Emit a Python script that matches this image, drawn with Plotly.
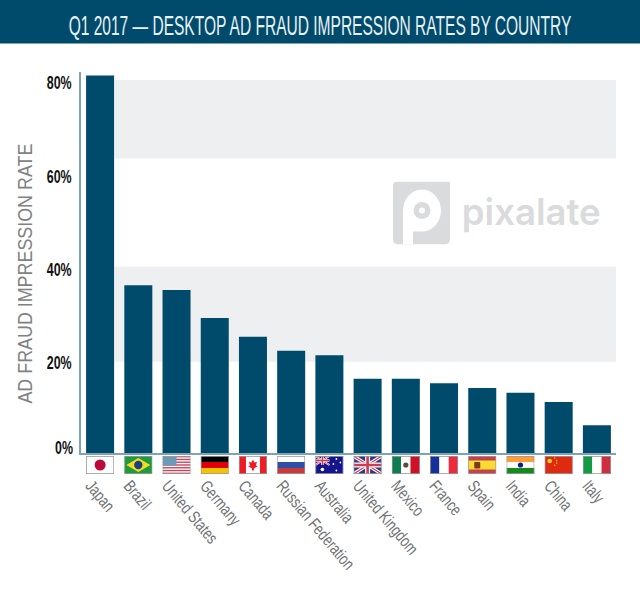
import base64
import plotly.graph_objects as go

countries = ["Japan", "Brazil", "United States", "Germany", "Canada", "Russian Federation", "Australia",
             "United Kingdom", "Mexico", "France", "Spain", "India", "China", "Italy"]
fraud_rates = [81, 36, 35, 29, 25, 22, 21, 16, 16, 15, 14, 13, 11, 6]
y_ticks = [20, 40, 60, 80]
y_tick_labels = ["20%", "40%", "60%", "80%"]
bands = [(19.6, 40), (63.2, 80)]

NAVY = "#004b6b"
AXIS = "#7fa3b6"
SANS = "Liberation Sans"

W, H = 640, 594


def py(pixel):
    # pixel row from the top -> paper fraction
    return (H - pixel) / H


def stripes_h(*cols):
    n = len(cols)
    return "".join(f'<rect y="{i * 18 / n}" width="28" height="{18 / n + .1}" fill="{c}"/>' for i, c in enumerate(cols))


def stripes_v(*cols):
    n = len(cols)
    return "".join(f'<rect x="{i * 28 / n}" width="{28 / n + .1}" height="18" fill="{c}"/>' for i, c in enumerate(cols))


us_stripes = "".join(f'<rect y="{i * 18 / 13}" width="28" height="{18 / 13}" fill="#c8415a"/>' for i in range(0, 13, 2))
union = ('<path d="M0 0L28 18M28 0L0 18" stroke="#fff" stroke-width="3.4"/>'
         '<path d="M0 0L28 18M28 0L0 18" stroke="#cf3a55" stroke-width="1.2"/>'
         '<path d="M14 0V18M0 9H28" stroke="#fff" stroke-width="5"/>'
         '<path d="M14 0V18M0 9H28" stroke="#cf3a55" stroke-width="2.6"/>')
union_small = ('<path d="M0 0L14 9M14 0L0 9" stroke="#fff" stroke-width="2"/>'
               '<path d="M0 0L14 9M14 0L0 9" stroke="#cf3a55" stroke-width=".8"/>'
               '<path d="M7 0V9M0 4.5H14" stroke="#fff" stroke-width="2.6"/>'
               '<path d="M7 0V9M0 4.5H14" stroke="#cf3a55" stroke-width="1.4"/>')

flags = {
    "Japan": '<rect width="28" height="18" fill="#fff"/><circle cx="14" cy="9" r="5.5" fill="#bc0a3c"/>',
    "Brazil": '<rect width="28" height="18" fill="#1f9a3c"/><path d="M14 2L26 9L14 16L2 9Z" fill="#f5dc1e"/>'
              '<circle cx="14" cy="9" r="4.2" fill="#1d3f86"/>',
    "United States": '<rect width="28" height="18" fill="#fff"/>' + us_stripes +
                     '<rect width="14" height="9.7" fill="#6d9ab8"/>',
    "Germany": stripes_h("#000", "#e00000", "#f5c400"),
    "Canada": stripes_v("#ee1c25", "#fff", "#fff", "#ee1c25") +
              '<path d="M14 3.5L15.5 6.5L18 5.8L17 9.5L19 10L15 12.5V14.5H13V12.5L9 10L11 9.5L10 5.8L12.5 6.5Z" fill="#ee1c25"/>',
    "Russian Federation": stripes_h("#fff", "#2e4fa8", "#cb3a3a"),
    "Australia": '<rect width="28" height="18" fill="#14148c"/>' + union_small +
                 '<circle cx="7" cy="13.5" r="1.8" fill="#fff"/><circle cx="21" cy="3" r=".9" fill="#fff"/>'
                 '<circle cx="25" cy="6.5" r=".9" fill="#fff"/><circle cx="18" cy="8" r=".9" fill="#fff"/>'
                 '<circle cx="21" cy="14.5" r=".9" fill="#fff"/>',
    "United Kingdom": '<rect width="28" height="18" fill="#2b3a88"/>' + union,
    "Mexico": stripes_v("#0e7d52", "#fff", "#ce1126") + '<circle cx="14" cy="9" r="2.6" fill="#5c4a32"/>',
    "France": stripes_v("#14309c", "#fff", "#ee2b3c"),
    "Spain": '<rect width="28" height="18" fill="#c8404a"/><rect y="4.5" width="28" height="9" fill="#f9dc32"/>'
             '<rect x="6" y="6" width="6" height="6.5" rx="1" fill="#7a3a1c"/>',
    "India": stripes_h("#ff9f33", "#fff", "#138a1c") + '<circle cx="14" cy="9" r="2.6" fill="#0c1f8c"/>',
    "China": '<rect width="28" height="18" fill="#df2a12"/><circle cx="5" cy="5" r="2.3" fill="#ffd21e"/>'
             '<circle cx="10" cy="2" r=".7" fill="#ffd21e"/><circle cx="12" cy="4.5" r=".7" fill="#ffd21e"/>'
             '<circle cx="12" cy="7" r=".7" fill="#ffd21e"/><circle cx="10" cy="9.2" r=".7" fill="#ffd21e"/>',
    "Italy": stripes_v("#129a45", "#fff", "#cf2e40"),
}

logo_mark = ('<svg xmlns="http://www.w3.org/2000/svg" width="57" height="63" viewBox="0 0 57 63">'
             '<path d="M4 0H57V58a5 5 0 0 1 -5 5H5a5 5 0 0 1 -5 -5V4a4 4 0 0 1 4 -4Z" fill="#d9dbdc"/>'
             '<path d="M10 63V29a19 21 0 1 1 19 21H20V63Z" fill="#fff"/>'
             '<circle cx="29" cy="29" r="8.5" fill="#d9dbdc"/><circle cx="29" cy="29" r="3" fill="#fff"/></svg>')


def data_uri(svg):
    return "data:image/svg+xml;base64," + base64.b64encode(svg.encode()).decode()


def flag_uri(country):
    return data_uri('<svg xmlns="http://www.w3.org/2000/svg" width="28" height="18" viewBox="0 0 28 18">'
                    + flags[country] +
                    '<rect x=".4" y=".4" width="27.2" height="17.2" fill="none" stroke="#9a9a9a" stroke-width=".8"/></svg>')


fig = go.Figure(go.Bar(x=countries, y=fraud_rates, marker_color=NAVY, marker_line_width=0))

# grey bands sit behind the bars and start just right of the Japan bar
for low, high in bands:
    fig.add_shape(type="rect", xref="x", yref="y", x0=0.38, x1=13.5, y0=low, y1=high,
                  fillcolor="#eeeff1", line_width=0, layer="below")

fig.add_shape(type="rect", xref="paper", yref="paper", x0=0, x1=1, y0=py(43.5), y1=1,
              fillcolor=NAVY, line_width=0, layer="below")

images = [dict(source=flag_uri(c), xref="x", yref="paper", x=c, y=py(465), sizex=0.733, sizey=18 / H,
               xanchor="center", yanchor="middle", sizing="stretch", layer="above") for c in countries]
images.append(dict(source=data_uri(logo_mark), xref="paper", yref="paper", x=393 / W, y=py(181.5),
                   sizex=57 / W, sizey=63 / H, xanchor="left", yanchor="top", sizing="stretch", layer="above"))

fig.update_layout(
    width=W, height=H, margin=dict(l=0, r=0, t=0, b=0),
    paper_bgcolor="white", plot_bgcolor="white", showlegend=False, bargap=0.267,
    title=dict(text="Q1 2017 — DESKTOP AD FRAUD IMPRESSION RATES BY COUNTRY", x=0.5, xanchor="center",
               y=py(26), yanchor="middle", yref="container",
               font=dict(family=SANS, size=27, color="#e8f2f6")),
    images=images,
    annotations=[
        dict(text="AD FRAUD IMPRESSION RATE", xref="paper", yref="paper", x=25 / W, y=py(274), xanchor="center",
             textangle=-90, showarrow=False, font=dict(family=SANS, size=20, color="#7f8284")),
        dict(text="0%", xref="paper", yref="y", x=63.5 / W, y=0, yshift=5, xanchor="center", showarrow=False,
             font=dict(family=SANS, size=18, color="#111111", weight="bold")),
        dict(text="pixalate", xref="paper", yref="paper", x=531 / W, y=py(211), xanchor="center", showarrow=False,
             font=dict(family="Inter", size=37, color="#d9dbdc", weight=600)),
    ],
)
fig.update_xaxes(domain=[81 / W, 616 / W], range=[-0.5, 13.5], automargin=False, showgrid=False, showline=True,
                 linecolor=AXIS, linewidth=1.5, ticks="", tickangle=50, ticklabelstandoff=14, ticklabelshift=-9,
                 tickfont=dict(family=SANS, size=17, color="#707274"))
fig.update_yaxes(domain=[py(453.3), py(71.7)], range=[0, 81.8], automargin=False, showgrid=False, zeroline=False,
                 showline=True, linecolor=AXIS, linewidth=1.5, ticks="", tickvals=y_ticks, ticktext=y_tick_labels,
                 ticklabelstandoff=4, ticklabelshift=3,
                 tickfont=dict(family=SANS, size=18, color="#111111", weight="bold"))

# no condensed font is installed, so squeeze the text along its own direction; also drop the body margin
squeeze = """
document.body.style.margin = '0';
var fit = {'Q1 2017 — DESKTOP AD FRAUD IMPRESSION RATES BY COUNTRY': 503, 'AD FRAUD IMPRESSION RATE': 260, 'pixalate': 139};
document.querySelectorAll('.main-svg text').forEach(function (el) {
  var s = null, t = el.textContent;
  if (fit[t]) { s = fit[t] / el.getComputedTextLength(); }
  else if (el.closest('.xtick')) { s = 0.75; }
  else if (el.closest('.ytick') || t === '0%') { s = 0.69; }
  if (s === null) return;
  var x = el.getAttribute('x') || 0, y = el.getAttribute('y') || 0;
  el.setAttribute('transform', (el.getAttribute('transform') || '') +
    ' translate(' + x + ' ' + y + ') scale(' + s + ' 1) translate(' + (-x) + ' ' + (-y) + ')');
});
"""

fig.write_html("out.html", config={"displayModeBar": False}, post_script=squeeze)
